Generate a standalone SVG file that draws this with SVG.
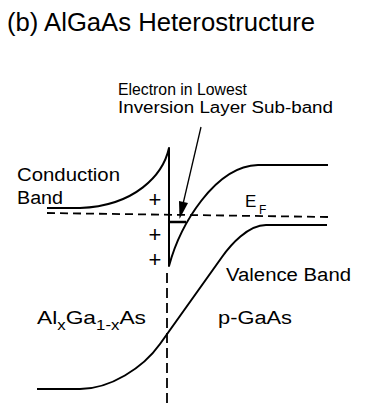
<svg xmlns="http://www.w3.org/2000/svg" width="384" height="417" viewBox="0 0 384 417">
<style>
.t{font-family:"Liberation Sans","DejaVu Sans",sans-serif;fill:#000}
.b{fill:none;stroke:#000;stroke-width:2;stroke-linejoin:round}
.d{fill:none;stroke:#000;stroke-width:1.8}
</style>
<rect width="384" height="417" fill="#fff"/>
<g id="title"><text class="t" x="7" y="31" font-size="25" textLength="308" lengthAdjust="spacingAndGlyphs">(b) AlGaAs Heterostructure</text></g>
<g id="electron-label">
<text class="t" x="118" y="95" font-size="16" textLength="129" lengthAdjust="spacingAndGlyphs">Electron in Lowest</text>
<text class="t" x="118" y="113" font-size="16" textLength="215" lengthAdjust="spacingAndGlyphs">Inversion Layer Sub-band</text>
</g>
<g id="conduction-band">
<path class="b" d="M47,208 L80,208 C135,206 163,175 169,148 L169,266 C180,225 215,166 258,165 L328,165"/>
<text class="t" x="17" y="181" font-size="18" textLength="103" lengthAdjust="spacingAndGlyphs">Conduction</text>
<text class="t" x="17" y="204" font-size="18" textLength="46" lengthAdjust="spacingAndGlyphs">Band</text>
</g>
<g id="subband"><path d="M169,222 L186,222" stroke="#000" stroke-width="2.5"/></g>
<g id="fermi-level">
<path class="d" d="M47,213 L328,217" stroke-dasharray="8 5"/>
<text class="t" x="245" y="207" font-size="17">E</text>
<text class="t" x="259" y="214" font-size="12">F</text>
</g>
<g id="valence-band">
<path class="b" d="M327,225 L266,225 C248,225 230.5,245 222,257 L160,344 C143,368 110,389 80,389 L37,389"/>
<text class="t" x="226" y="281" font-size="18" textLength="125" lengthAdjust="spacingAndGlyphs">Valence Band</text>
</g>
<g id="charges">
<text class="t" x="155" y="207" font-size="22" text-anchor="middle">+</text>
<text class="t" x="155" y="242" font-size="22" text-anchor="middle">+</text>
<text class="t" x="155" y="267" font-size="22" text-anchor="middle">+</text>
</g>
<g id="interface"><path class="d" d="M167,273 L167,408" stroke-dasharray="10 5"/></g>
<g id="algaas-label"><text class="t" x="37" y="324" font-size="19" textLength="109" lengthAdjust="spacingAndGlyphs">Al<tspan font-size="14" dy="6">x</tspan><tspan dy="-6">Ga</tspan><tspan font-size="14" dy="6">1-x</tspan><tspan dy="-6">As</tspan></text></g>
<g id="gaas-label"><text class="t" x="218" y="324" font-size="18" textLength="74" lengthAdjust="spacingAndGlyphs">p-GaAs</text></g>
<g id="connectors">
<path d="M201,127 L183,204" stroke="#000" stroke-width="1.3"/>
<polygon points="179,201 188,203 179.5,219" fill="#000"/>
</g>
</svg>
